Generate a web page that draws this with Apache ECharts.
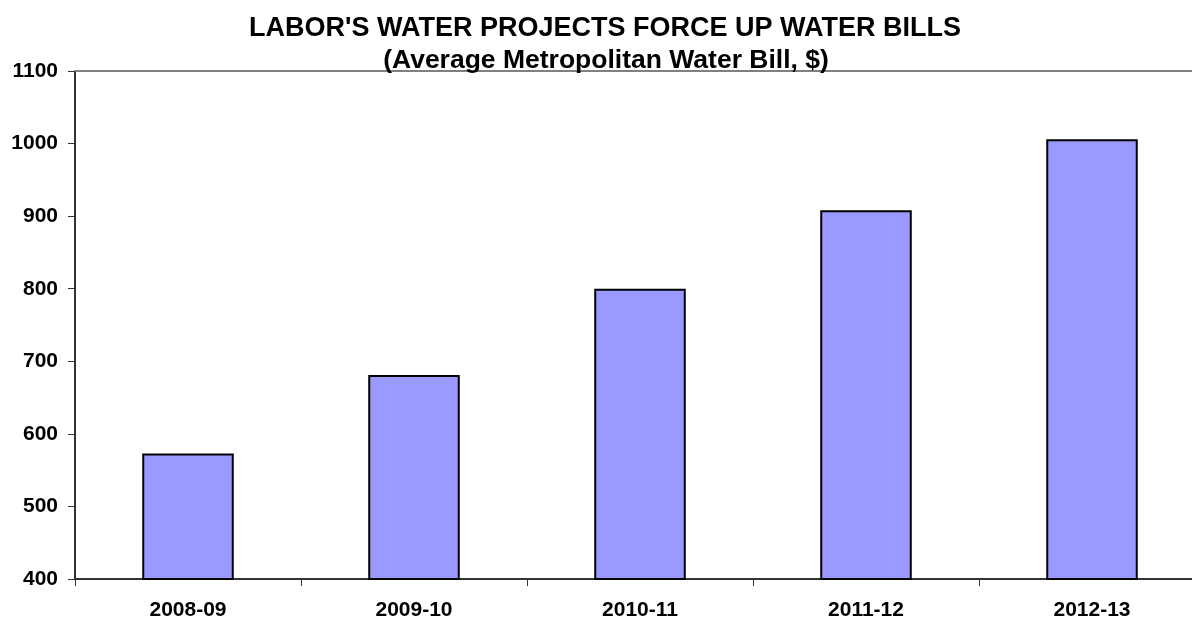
<!DOCTYPE html>
<html>
<head>
<meta charset="utf-8">
<script src="https://cdn.jsdelivr.net/npm/echarts@6/dist/echarts.min.js"></script>
<style>
html,body{margin:0;padding:0;background:#fff;}
#chart{width:1192px;height:621px;}
</style>
</head>
<body>
<div id="chart"></div>
<script>
const categories = ['2008-09', '2009-10', '2010-11', '2011-12', '2012-13'];
const waterBill = [573, 681, 800, 908, 1006];
const yMin = 400, yMax = 1100, yStep = 100;
const titleText = "LABOR'S WATER PROJECTS FORCE UP WATER BILLS";
const subtitleText = '(Average Metropolitan Water Bill, $)';

const chart = echarts.init(document.getElementById('chart'), null, {renderer: 'canvas'});
const font = 'Liberation Sans, Arial, sans-serif';
chart.setOption({
  animation: false,
  backgroundColor: '#ffffff',
  title: [{
    text: titleText,
    left: 600,
    top: 10,
    textAlign: 'center',
    textStyle: {fontFamily: font, fontWeight: 'bold', fontSize: 27, color: '#000', lineHeight: 27}
  }, {
    text: subtitleText,
    left: 601,
    top: 42,
    textAlign: 'center',
    textStyle: {fontFamily: font, fontWeight: 'bold', fontSize: 26.5, color: '#000', lineHeight: 27}
  }],
  grid: {left: 75, top: 71, width: 1130, bottom: 42, containLabel: false, outerBoundsMode: 'none'},
  xAxis: [{
    type: 'category',
    data: categories,
    position: 'bottom',
    axisLine: {lineStyle: {color: '#333', width: 2}},
    axisTick: {show: true, alignWithLabel: false, length: 7, lineStyle: {color: '#333', width: 1}},
    axisLabel: {fontFamily: font, fontWeight: 'bold', fontSize: 21, color: '#000', margin: 21}
  }, {
    type: 'category',
    data: categories,
    position: 'top',
    axisLine: {show: true, lineStyle: {color: '#808080', width: 2}},
    axisTick: {show: false},
    axisLabel: {show: false}
  }],
  yAxis: {
    type: 'value',
    min: yMin,
    max: yMax,
    interval: yStep,
    axisLine: {show: true, lineStyle: {color: '#333', width: 2}},
    axisTick: {show: true, length: 7, lineStyle: {color: '#333', width: 1}},
    splitLine: {show: false},
    axisLabel: {fontFamily: font, fontWeight: 'bold', fontSize: 21, color: '#000', margin: 17,
      formatter: function (v) { return String(v); }}
  },
  series: [{
    type: 'bar',
    data: waterBill,
    barWidth: '40.5%',
    itemStyle: {color: '#9999FF', borderColor: '#000', borderWidth: 2}
  }]
});
</script>
</body>
</html>
